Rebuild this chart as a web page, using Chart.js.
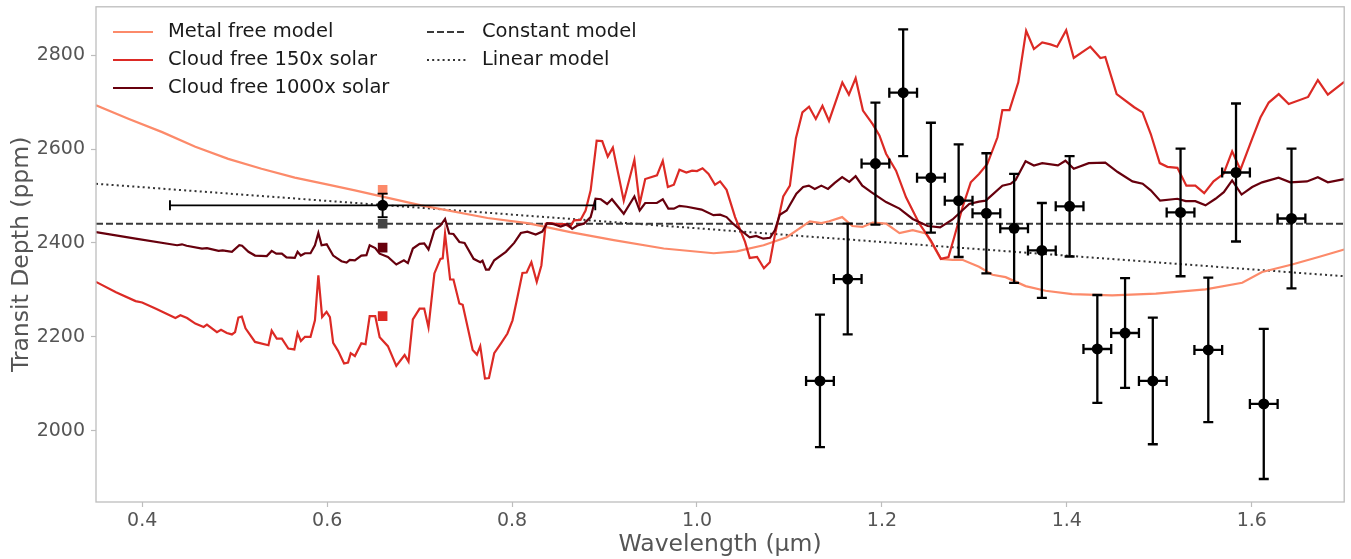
<!DOCTYPE html>
<html>
<head>
<meta charset="utf-8">
<script src="https://cdn.jsdelivr.net/npm/chart.js@4.4.0/dist/chart.umd.min.js"></script>
<style>
html, body { margin: 0; padding: 0; background: #fff; }
#wrap { position: relative; width: 1351px; height: 559px; }
</style>
</head>
<body>
<div id="wrap"><canvas id="spectrum"></canvas></div>
<script>
// --- Datos espectrales ---
const binWave  = [1.133, 1.163, 1.193, 1.223, 1.253, 1.283, 1.313, 1.343, 1.373, 1.403, 1.433, 1.463, 1.493, 1.523, 1.553, 1.583, 1.613, 1.643];
const binHalf  = [0.015, 0.015, 0.015, 0.015, 0.015, 0.015, 0.015, 0.015, 0.015, 0.015, 0.015, 0.015, 0.015, 0.015, 0.015, 0.015, 0.015, 0.015];
const binDepth = [2106, 2323, 2569, 2720, 2539, 2490, 2463, 2431, 2384, 2478, 2174, 2208, 2106, 2465, 2172, 2550, 2057, 2452];
const binErr   = [141, 118, 130, 135, 117, 120, 128, 116, 101, 107, 115, 117, 135, 136, 154, 147, 160, 149];

// punto de banda ancha
const bandWave = [0.66];
const bandHalf = [0.23];
const bandDepth = [2480];
const bandErr = [25];

// modelos integrados en la banda
const bandModelDepth = [2513, 2441, 2390, 2244];
const bandModelColor = ['#fc8a6a', '#444444', '#67000d', '#dc2a25'];

const constWave = [0.35, 1.7];
const constDepth = [2441, 2441];
const linWave = [0.35, 1.7];
const linDepth = [2526, 2329];

const metalFreeWave = [0.35, 0.3856, 0.4216, 0.4574, 0.493, 0.529, 0.565, 0.601, 0.630, 0.7017, 0.7735, 0.8166, 0.863, 0.910, 0.964, 1.018, 1.043, 1.072, 1.097, 1.122, 1.1345, 1.143, 1.157, 1.168, 1.179, 1.190, 1.2045, 1.219, 1.2333, 1.2476, 1.2638, 1.2764, 1.287, 1.305, 1.3195, 1.3338, 1.3554, 1.377, 1.4058, 1.449, 1.4963, 1.550, 1.5897, 1.6112, 1.6436, 1.6723, 1.70];
const metalFreeDepth = [2693, 2664, 2636, 2605, 2579, 2558, 2539, 2524, 2512, 2480, 2453, 2442, 2423, 2406, 2388, 2378, 2382, 2395, 2412, 2446, 2442, 2446, 2455, 2436, 2434, 2443, 2441, 2421, 2427, 2420, 2366, 2364, 2364, 2349, 2332, 2327, 2308, 2298, 2291, 2288, 2292, 2301, 2315, 2338, 2354, 2370, 2386];

const cloud150Wave = [0.35, 0.3716, 0.3928, 0.3999, 0.4143, 0.4359, 0.4413, 0.4485, 0.4574, 0.4664, 0.470, 0.4808, 0.4852, 0.4915, 0.497, 0.5004, 0.504, 0.5077, 0.5117, 0.522, 0.5365, 0.540, 0.5455, 0.551, 0.558, 0.5645, 0.568, 0.5716, 0.576, 0.582, 0.5868, 0.5905, 0.5946, 0.5994, 0.603, 0.6065, 0.6118, 0.6183, 0.6226, 0.6255, 0.630, 0.637, 0.6415, 0.646, 0.652, 0.6568, 0.6657, 0.6748, 0.6838, 0.688, 0.6927, 0.700, 0.705, 0.7096, 0.716, 0.7225, 0.725, 0.7275, 0.733, 0.7366, 0.743, 0.7466, 0.7574, 0.762, 0.7656, 0.7707, 0.775, 0.7807, 0.788, 0.795, 0.8005, 0.8058, 0.8112, 0.8158, 0.8209, 0.8267, 0.8317, 0.8364, 0.842, 0.849, 0.857, 0.8626, 0.867, 0.874, 0.8795, 0.885, 0.8915, 0.8975, 0.9035, 0.909, 0.9208, 0.9323, 0.938, 0.944, 0.9567, 0.963, 0.9685, 0.975, 0.981, 0.9885, 0.9947, 1.0, 1.006, 1.0125, 1.0195, 1.025, 1.032, 1.0412, 1.052, 1.057, 1.065, 1.0724, 1.0788, 1.0842, 1.0933, 1.1005, 1.107, 1.114, 1.1212, 1.1285, 1.1357, 1.1428, 1.1572, 1.1643, 1.1716, 1.1795, 1.190, 1.1973, 1.2045, 1.2153, 1.2261, 1.2405, 1.253, 1.2638, 1.272, 1.2782, 1.2872, 1.2961, 1.305, 1.314, 1.325, 1.3303, 1.338, 1.3475, 1.356, 1.3644, 1.3734, 1.3823, 1.3895, 1.3993, 1.4075, 1.4254, 1.4363, 1.4416, 1.4539, 1.4729, 1.4819, 1.4908, 1.5005, 1.5088, 1.5196, 1.5293, 1.539, 1.5486, 1.5587, 1.5695, 1.5788, 1.5878, 1.6005, 1.6094, 1.6184, 1.6292, 1.640, 1.661, 1.6715, 1.6823, 1.70];
const cloud150Depth = [2317, 2295, 2276, 2273, 2260, 2240, 2246, 2240, 2228, 2221, 2226, 2210, 2215, 2208, 2205, 2210, 2241, 2243, 2218, 2189, 2182, 2213, 2196, 2196, 2175, 2173, 2208, 2191, 2200, 2200, 2235, 2331, 2242, 2253, 2242, 2187, 2170, 2143, 2145, 2165, 2159, 2186, 2184, 2244, 2244, 2199, 2180, 2138, 2161, 2147, 2237, 2260, 2260, 2220, 2335, 2366, 2367, 2420, 2322, 2322, 2271, 2268, 2172, 2162, 2180, 2111, 2112, 2165, 2186, 2207, 2235, 2284, 2336, 2337, 2359, 2317, 2352, 2441, 2442, 2440, 2440, 2434, 2448, 2449, 2469, 2512, 2618, 2617, 2584, 2603, 2490, 2577, 2483, 2536, 2544, 2575, 2519, 2524, 2556, 2550, 2554, 2553, 2559, 2547, 2524, 2531, 2513, 2455, 2402, 2368, 2370, 2346, 2359, 2416, 2499, 2522, 2623, 2678, 2690, 2664, 2692, 2660, 2742, 2716, 2751, 2682, 2653, 2629, 2590, 2554, 2497, 2441, 2405, 2366, 2370, 2412, 2476, 2529, 2547, 2568, 2625, 2683, 2683, 2742, 2852, 2813, 2827, 2823, 2818, 2853, 2794, 2818, 2794, 2796, 2717, 2689, 2678, 2632, 2570, 2562, 2560, 2522, 2522, 2506, 2531, 2547, 2595, 2556, 2622, 2667, 2699, 2717, 2696, 2711, 2747, 2716, 2743];

const cloud1000Wave = [0.35, 0.3928, 0.4377, 0.443, 0.448, 0.4647, 0.47, 0.4826, 0.487, 0.497, 0.505, 0.508, 0.5149, 0.522, 0.5347, 0.540, 0.545, 0.551, 0.556, 0.565, 0.568, 0.5715, 0.576, 0.582, 0.5868, 0.5905, 0.594, 0.5995, 0.6065, 0.6155, 0.621, 0.6245, 0.630, 0.637, 0.6425, 0.646, 0.652, 0.6568, 0.6657, 0.6748, 0.683, 0.6873, 0.6927, 0.700, 0.705, 0.7096, 0.716, 0.7225, 0.7275, 0.732, 0.7366, 0.743, 0.7486, 0.7584, 0.7656, 0.768, 0.7718, 0.775, 0.7807, 0.7933, 0.8023, 0.8095, 0.8166, 0.8256, 0.8327, 0.838, 0.845, 0.8526, 0.8598, 0.865, 0.8705, 0.8777, 0.885, 0.8903, 0.896, 0.9028, 0.908, 0.9208, 0.9323, 0.938, 0.944, 0.9566, 0.963, 0.969, 0.975, 0.981, 0.989, 1.005, 1.0178, 1.025, 1.032, 1.039, 1.0466, 1.057, 1.064, 1.0717, 1.079, 1.0842, 1.0896, 1.097, 1.1075, 1.1148, 1.121, 1.1274, 1.1345, 1.1417, 1.149, 1.157, 1.1647, 1.1716, 1.1788, 1.1885, 1.2045, 1.219, 1.2333, 1.2495, 1.263, 1.2764, 1.2944, 1.305, 1.3123, 1.3303, 1.3392, 1.3446, 1.3554, 1.3644, 1.3734, 1.3904, 1.3985, 1.4075, 1.4237, 1.4416, 1.455, 1.471, 1.482, 1.4908, 1.5009, 1.5196, 1.5286, 1.539, 1.550, 1.5608, 1.5698, 1.5788, 1.589, 1.6005, 1.6112, 1.629, 1.6417, 1.6597, 1.6715, 1.6823, 1.70];
const cloud1000Depth = [2423, 2409, 2395, 2397, 2394, 2388, 2389, 2383, 2384, 2381, 2395, 2394, 2381, 2373, 2372, 2383, 2377, 2377, 2369, 2368, 2381, 2373, 2378, 2378, 2395, 2421, 2395, 2397, 2373, 2361, 2358, 2364, 2363, 2373, 2374, 2395, 2389, 2377, 2370, 2354, 2363, 2357, 2388, 2398, 2399, 2386, 2427, 2437, 2451, 2420, 2419, 2402, 2400, 2366, 2359, 2362, 2343, 2343, 2363, 2381, 2400, 2421, 2424, 2418, 2424, 2442, 2440, 2435, 2440, 2430, 2437, 2441, 2455, 2494, 2493, 2483, 2493, 2462, 2499, 2469, 2485, 2485, 2493, 2473, 2473, 2479, 2477, 2471, 2459, 2460, 2455, 2441, 2428, 2412, 2415, 2409, 2411, 2427, 2460, 2469, 2505, 2519, 2522, 2515, 2522, 2515, 2528, 2540, 2530, 2542, 2522, 2508, 2487, 2473, 2451, 2436, 2433, 2450, 2483, 2488, 2490, 2522, 2526, 2534, 2574, 2565, 2570, 2565, 2575, 2558, 2570, 2571, 2551, 2531, 2526, 2512, 2490, 2494, 2489, 2489, 2480, 2494, 2508, 2533, 2503, 2519, 2529, 2539, 2529, 2531, 2540, 2529, 2536];

// --- Utilidades ---
function toPoints(xs, ys) { return xs.map((x, i) => ({ x: x, y: ys[i] })); }

// Barras de error dibujadas con las escalas del grafico
const errorBarsPlugin = {
    id: 'errorBars',
    afterDatasetsDraw(chart) {
        const ctx = chart.ctx;
        const xs = chart.scales.x, ys = chart.scales.y;
        chart.data.datasets.forEach(ds => {
            if (!ds.errorBars) return;
            const eb = ds.errorBars;
            ctx.save();
            ctx.strokeStyle = eb.color;
            ctx.lineWidth = eb.lineWidth;
            ds.data.forEach((p, j) => {
                const px = xs.getPixelForValue(p.x), py = ys.getPixelForValue(p.y);
                const xl = xs.getPixelForValue(p.x - eb.xErr[j]), xr = xs.getPixelForValue(p.x + eb.xErr[j]);
                const yt = ys.getPixelForValue(p.y + eb.yErr[j]), yb = ys.getPixelForValue(p.y - eb.yErr[j]);
                const c = eb.cap;
                ctx.beginPath();
                ctx.moveTo(xl, py); ctx.lineTo(xr, py);
                ctx.moveTo(xl, py - c); ctx.lineTo(xl, py + c);
                ctx.moveTo(xr, py - c); ctx.lineTo(xr, py + c);
                ctx.moveTo(px, yt); ctx.lineTo(px, yb);
                ctx.moveTo(px - c, yt); ctx.lineTo(px + c, yt);
                ctx.moveTo(px - c, yb); ctx.lineTo(px + c, yb);
                ctx.stroke();
            });
            ctx.restore();
        });
    }
};

// Marco completo (estilo matplotlib)
const framePlugin = {
    id: 'frame',
    afterDatasetsDraw(chart, args, opts) {
        const { ctx, chartArea: a } = chart;
        ctx.save();
        ctx.strokeStyle = opts.color;
        ctx.lineWidth = opts.width;
        ctx.strokeRect(a.left, a.top, a.right - a.left, a.bottom - a.top);
        ctx.restore();
    }
};

// Leyenda en dos columnas dentro del area
const legendPlugin = {
    id: 'insideLegend',
    afterDraw(chart, args, opts) {
        const ctx = chart.ctx;
        ctx.save();
        ctx.font = opts.font;
        ctx.textBaseline = 'middle';
        ctx.textAlign = 'left';
        opts.columns.forEach((col, ci) => {
            col.forEach((label, ri) => {
                const ds = chart.data.datasets.find(d => d.label === label);
                if (!ds) return;
                const x0 = opts.x[ci], y0 = opts.y[ri];
                ctx.beginPath();
                ctx.strokeStyle = ds.borderColor;
                ctx.lineWidth = ds.borderWidth;
                ctx.setLineDash(ds.borderDash || []);
                ctx.moveTo(x0, y0);
                ctx.lineTo(x0 + opts.lineLength, y0);
                ctx.stroke();
                ctx.setLineDash([]);
                ctx.fillStyle = opts.color;
                ctx.fillText(label, x0 + opts.lineLength + opts.gap, y0);
            });
        });
        ctx.restore();
    }
};

document.addEventListener('DOMContentLoaded', function () {
    const ctx = document.getElementById('spectrum').getContext('2d');
    const tickFont = { family: 'DejaVu Sans', size: 19 };
    const titleFont = { family: 'DejaVu Sans', size: 23.5 };

    new Chart(ctx, {
        type: 'scatter',
        data: {
            datasets: [
                {
                    label: 'WFC3',
                    data: toPoints(binWave, binDepth),
                    showLine: false,
                    pointRadius: 5.5,
                    pointBackgroundColor: '#000',
                    pointBorderWidth: 0,
                    errorBars: { xErr: binHalf, yErr: binErr, color: '#000', lineWidth: 2.3, cap: 5 }
                },
                {
                    label: 'Broadband',
                    data: toPoints(bandWave, bandDepth),
                    showLine: false,
                    pointRadius: 5.5,
                    pointBackgroundColor: '#000',
                    pointBorderWidth: 0,
                    errorBars: { xErr: bandHalf, yErr: bandErr, color: '#000', lineWidth: 1.9, cap: 5 }
                },
                {
                    label: 'Band models',
                    data: bandModelDepth.map(d => ({ x: bandWave[0], y: d })),
                    showLine: false,
                    pointStyle: 'rect',
                    pointRadius: 6.8,
                    pointBackgroundColor: bandModelColor,
                    pointBorderWidth: 0
                },
                {
                    label: 'Cloud free 1000x solar',
                    data: toPoints(cloud1000Wave, cloud1000Depth),
                    showLine: true, pointRadius: 0,
                    borderColor: '#67000d', borderWidth: 2.2
                },
                {
                    label: 'Cloud free 150x solar',
                    data: toPoints(cloud150Wave, cloud150Depth),
                    showLine: true, pointRadius: 0,
                    borderColor: '#dc2a25', borderWidth: 2.2
                },
                {
                    label: 'Metal free model',
                    data: toPoints(metalFreeWave, metalFreeDepth),
                    showLine: true, pointRadius: 0,
                    borderColor: '#fc8a6a', borderWidth: 2.2
                },
                {
                    label: 'Constant model',
                    data: toPoints(constWave, constDepth),
                    showLine: true, pointRadius: 0,
                    borderColor: '#3a3a3a', borderWidth: 2, borderDash: [7, 3]
                },
                {
                    label: 'Linear model',
                    data: toPoints(linWave, linDepth),
                    showLine: true, pointRadius: 0,
                    borderColor: '#333333', borderWidth: 2, borderDash: [2, 3.2]
                }
            ]
        },
        options: {
            responsive: true,
            maintainAspectRatio: false,
            animation: false,
            events: [],
            layout: { padding: { top: 6, right: 3, left: 0, bottom: 0 } },
            plugins: {
                legend: { display: false },
                tooltip: { enabled: false },
                frame: { color: '#bdbdbd', width: 1.3 },
                insideLegend: {
                    font: '19.5px "DejaVu Sans"',
                    color: '#1a1a1a',
                    columns: [['Metal free model', 'Cloud free 150x solar', 'Cloud free 1000x solar'], ['Constant model', 'Linear model']],
                    x: [113, 427],
                    y: [32, 60, 88],
                    lineLength: 40,
                    gap: 15
                }
            },
            scales: {
                x: {
                    type: 'linear',
                    min: 0.35,
                    max: 1.7,
                    afterBuildTicks: s => { s.ticks = [0.4, 0.6, 0.8, 1.0, 1.2, 1.4, 1.6].map(v => ({ value: v })); },
                    afterFit: s => { s.height = 57; s.paddingLeft = 0; s.paddingRight = 0; },
                    border: { display: false },
                    grid: { drawOnChartArea: false, drawTicks: true, tickLength: 5, color: '#bdbdbd', tickWidth: 1.2 },
                    ticks: { font: tickFont, color: '#555', padding: 3, maxRotation: 0, callback: v => v.toFixed(1) },
                    title: { display: true, text: 'Wavelength (μm)', font: titleFont, color: '#555', padding: { top: 0, bottom: 0 } }
                },
                y: {
                    type: 'linear',
                    min: 1848,
                    max: 2903,
                    afterBuildTicks: s => { s.ticks = [2000, 2200, 2400, 2600, 2800].map(v => ({ value: v })); },
                    afterFit: s => { s.width = 96; s.paddingTop = 0; s.paddingBottom = 0; },
                    border: { display: false },
                    grid: { drawOnChartArea: false, drawTicks: true, tickLength: 5, color: '#bdbdbd', tickWidth: 1.2 },
                    ticks: { font: tickFont, color: '#555', padding: 6, callback: v => String(v) },
                    title: { display: true, text: 'Transit Depth (ppm)', font: titleFont, color: '#555', padding: { top: 8, bottom: 0 } }
                }
            }
        },
        plugins: [errorBarsPlugin, framePlugin, legendPlugin]
    });
});
</script>
</body>
</html>
